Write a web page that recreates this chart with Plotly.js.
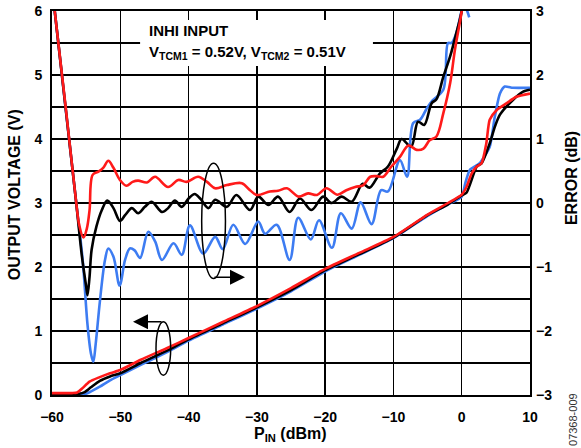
<!DOCTYPE html>
<html>
<head>
<meta charset="utf-8">
<script src="https://cdn.plot.ly/plotly-3.0.1.min.js"></script>
<style>html,body{margin:0;padding:0;background:#fff;}#chart{width:581px;height:448px;}</style>
</head>
<body>
<div id="chart"></div>
<script>
// ---- Output voltage (V) vs PIN (dBm), left axis ----
const pinRedV   = [-60,-57,-56.3,-55.6,-54.5,-53,-51.5,-50,-47,-43.2,-40,-35,-30,-25,-20,-15,-10,-5,-2,0,0.7,1.45,2.2,2.9,3.6,4.1,5.1,6.6,8,10];
const voltRed   = [0.03,0.03,0.04,0.1,0.21,0.28,0.34,0.39,0.55,0.73,0.89,1.14,1.39,1.67,1.97,2.22,2.47,2.82,3.0,3.13,3.25,3.46,3.57,3.62,3.93,4.3,4.45,4.56,4.66,4.71];

const pinBlackV = [-60,-56,-55.3,-54.3,-53,-51.5,-50,-47,-43,-40,-35,-30,-25,-20,-15,-10,-5,-2,0,0.7,2.2,2.9,4.1,4.85,5.6,7.5,9,10];
const voltBlack = [0.02,0.02,0.04,0.12,0.22,0.29,0.34,0.5,0.7,0.87,1.12,1.37,1.64,1.95,2.2,2.46,2.81,2.98,3.12,3.16,3.57,3.62,3.93,4.19,4.38,4.61,4.74,4.77];

const pinBlueV  = [-60,-55,-54.4,-53,-51.5,-50,-47,-43,-40,-35,-30,-25,-20,-15,-10,-5,-2,0,0.5,1.2,2.6,4.1,4.85,5.6,6.3,7.5,10];
const voltBlue  = [0.02,0.02,0.05,0.13,0.23,0.31,0.47,0.68,0.85,1.1,1.35,1.62,1.93,2.19,2.45,2.8,2.98,3.1,3.3,3.52,3.62,3.88,4.35,4.71,4.82,4.8,4.8];

// ---- Error (dB) vs PIN (dBm), right axis ----
const pinRedE   = [-60,-59.6,-58,-56.5,-56,-55.4,-54.9,-54.5,-54.05,-53.2,-52.5,-51.75,-51,-50.05,-49.1,-48.2,-47.4,-46.1,-44.9,-43.0,-41.5,-40.3,-38.6,-37.3,-36.1,-34.4,-32.2,-31,-30,-28.1,-26.9,-25.6,-23.9,-22.5,-21.2,-19.8,-18.2,-16.9,-15.6,-14.4,-13.4,-12.5,-11.5,-10.3,-9.05,-7.8,-6.6,-5.6,-4.7,-3.7,-2.7,-1.7,-1.0,0,0.4];
const errRed    = [3.4,3.0,1.5,0.05,-0.35,-0.54,-0.4,-0.11,0.44,0.49,0.55,0.66,0.55,0.36,0.27,0.33,0.35,0.32,0.41,0.25,0.36,0.33,0.41,0.33,0.23,0.28,0.31,0.2,0.125,0.18,0.19,0.23,0.1,0.15,0.125,0.23,0.13,0.2,0.25,0.28,0.41,0.42,0.41,0.57,0.72,0.9,0.83,0.85,0.98,1.04,1.4,1.87,2.39,3.0,3.4];

const pinBlackE = [-60,-59.6,-56.5,-55.6,-55.0,-54.8,-54.5,-54.2,-53.5,-52.7,-51.9,-51.0,-50.05,-49.3,-48.3,-47.4,-46.4,-45.4,-43.9,-43.0,-42.0,-41.0,-40.0,-39.1,-38.3,-37.1,-36.1,-34.4,-33.0,-31.0,-29.8,-28.3,-26.9,-25.2,-23.7,-22.0,-20.3,-19.05,-17.6,-16.1,-14.5,-13.5,-12.0,-10.8,-9.5,-8.8,-7.4,-6.4,-5.5,-4.4,-3.7,-2.7,-1.7,-0.8,0,0.4];
const errBlack  = [3.4,3.0,0.05,-0.85,-1.3,-1.44,-1.15,-0.73,-0.37,-0.11,0.04,-0.08,-0.28,-0.19,-0.08,-0.16,-0.06,0.02,-0.14,-0.08,0.04,-0.06,0.07,0.14,0.07,-0.08,0.05,-0.06,0.125,-0.11,0.1,-0.03,0.1,-0.14,0.07,-0.11,0.1,0.0,0.1,0.02,0.3,0.24,0.46,0.57,0.85,1.0,0.88,1.27,1.22,1.56,1.62,1.97,2.29,2.65,3.0,3.4];

const pinBlueE  = [-60,-59.6,-56.5,-55.5,-54.8,-54.3,-53.95,-53.6,-52.97,-52.24,-51.76,-51.0,-50.1,-49.3,-48.6,-47.9,-47.1,-45.9,-44.9,-43.9,-42.2,-41.0,-39.8,-37.85,-36.1,-35.0,-33.45,-31.7,-29.8,-28.8,-27.1,-25.2,-23.95,-22.1,-20.9,-19.0,-17.7,-16.1,-14.8,-13.2,-11.8,-10.8,-9.05,-8.0,-7.1,-6.1,-5.1,-4.3,-2.7,-2.0,-1.5,-0.8,0,0.4,0.8,1.1];
const errBlue   = [3.4,3.0,0.05,-0.9,-1.9,-2.35,-2.48,-2.2,-1.52,-0.89,-0.71,-0.84,-1.29,-0.89,-0.71,-0.74,-0.86,-0.45,-0.6,-0.89,-0.63,-0.81,-0.35,-0.79,-0.53,-0.72,-0.34,-0.64,-0.29,-0.48,-0.34,-0.89,-0.23,-0.57,-0.27,-0.7,-0.16,-0.4,0.01,-0.33,0.2,0.18,0.67,0.41,1.25,1.3,1.48,1.6,1.77,2.5,2.5,2.65,3.0,3.08,3.0,2.9];

// ---- Axis ticks ----
const xTicks  = [-60,-50,-40,-30,-20,-10,0,10];
const yTicks  = [0,1,2,3,4,5,6];
const y2Ticks = [-3,-2,-1,0,1,2,3];

const RED = '#ff1a1a', BLACK = '#000000', BLUE = '#3d7cf2';
const LW = 2.6;

function tr(x, y, color, axis, sm) {
  return {x: x, y: y, type: 'scatter', mode: 'lines', yaxis: axis,
          line: {color: color, width: LW, shape: 'spline', smoothing: sm},
          hoverinfo: 'skip'};
}

const data = [
  tr(pinBlueV, voltBlue, BLUE, 'y', 0.6),
  tr(pinBlackV, voltBlack, BLACK, 'y', 0.6),
  tr(pinRedV, voltRed, RED, 'y', 0.6),
  tr(pinBlueE, errBlue, BLUE, 'y2', 0.95),
  tr(pinBlackE, errBlack, BLACK, 'y2', 0.95),
  tr(pinRedE, errRed, RED, 'y2', 0.95)
];

const FONT = 'Liberation Sans, Arial, Helvetica, sans-serif';
const tickFont = {family: FONT, size: 14, color: 'black', weight: 'bold'};

const layout = {
  width: 581, height: 448,
  margin: {l: 52, r: 51, t: 11, b: 53, pad: 0},
  paper_bgcolor: 'white', plot_bgcolor: 'white',
  showlegend: false,
  font: {family: FONT, size: 14, color: 'black'},
  xaxis: {
    range: [-60, 10], tickmode: 'array', tickvals: xTicks,
    showgrid: true, gridcolor: 'black', gridwidth: 1.5,
    zeroline: false, showline: true, mirror: true, linecolor: 'black', linewidth: 2,
    ticks: '', tickfont: tickFont, ticklabelstandoff: 8, fixedrange: true
  },
  yaxis: {
    range: [0, 6], tickmode: 'array', tickvals: yTicks,
    showgrid: true, gridcolor: 'black', gridwidth: 1.5,
    minor: {dtick: 0.5, tick0: 0, showgrid: true, gridcolor: 'black', gridwidth: 1.5, ticks: ''},
    zeroline: false, showline: true, mirror: true, linecolor: 'black', linewidth: 2,
    ticks: '', tickfont: tickFont, ticklabelstandoff: 5, fixedrange: true
  },
  yaxis2: {
    range: [-3, 3], tickmode: 'array', tickvals: y2Ticks,
    overlaying: 'y', side: 'right', showgrid: false, zeroline: false, showline: false,
    ticks: '', tickfont: tickFont, ticklabelstandoff: 5, fixedrange: true
  },
  shapes: [
    {type: 'rect', xref: 'x', yref: 'y', x0: -47.1, x1: -13.0, y0: 5.14, y1: 5.86,
     fillcolor: 'white', line: {width: 0}, layer: 'above'},
    {type: 'circle', xref: 'x', yref: 'y', x0: -38.08, x1: -34.6, y0: 1.82, y1: 3.62,
     line: {color: 'black', width: 1.5}, layer: 'above'},
    {type: 'circle', xref: 'x', yref: 'y', x0: -44.77, x1: -42.62, y0: 0.31, y1: 1.145,
     line: {color: 'black', width: 1.5}, layer: 'above'}
  ],
  annotations: [
    {text: 'INHI INPUT', xref: 'paper', yref: 'paper', x: 0.1987, y: 0.948,
     xanchor: 'left', yanchor: 'middle', showarrow: false,
     font: {family: FONT, size: 15, color: 'black', weight: 'bold'}},
    {text: 'V<sub>TCM1</sub> = 0.52V, V<sub>TCM2</sub> = 0.51V', xref: 'paper', yref: 'paper', x: 0.1987, y: 0.893,
     xanchor: 'left', yanchor: 'middle', showarrow: false,
     font: {family: FONT, size: 15, color: 'black', weight: 'bold'}},
    {text: 'OUTPUT VOLTAGE (V)', xref: 'paper', yref: 'paper', x: -0.0795, y: 0.523,
     xanchor: 'center', yanchor: 'middle', textangle: -90, showarrow: false,
     font: {family: FONT, size: 16, color: 'black', weight: 'bold'}},
    {text: 'ERROR (dB)', xref: 'paper', yref: 'paper', x: 1.0858, y: 0.565,
     xanchor: 'center', yanchor: 'middle', textangle: -90, showarrow: false,
     font: {family: FONT, size: 16, color: 'black', weight: 'bold'}},
    {text: 'P<sub>IN</sub> (dBm)', xref: 'paper', yref: 'paper', x: 0.498, y: -0.104,
     xanchor: 'center', yanchor: 'middle', showarrow: false,
     font: {family: FONT, size: 16, color: 'black', weight: 'bold'}},
    {text: '07368-009', xref: 'paper', yref: 'paper', x: 1.09, y: -0.065,
     xanchor: 'center', yanchor: 'middle', textangle: -90, showarrow: false,
     font: {family: FONT, size: 11, color: '#333333'}},
    {text: '', xref: 'x', yref: 'y', axref: 'x', ayref: 'y',
     x: -31.74, y: 1.84, ax: -36.43, ay: 1.84,
     showarrow: true, arrowhead: 2, arrowsize: 2, arrowwidth: 1.5, arrowcolor: 'black'},
    {text: '', xref: 'x', yref: 'y', axref: 'x', ayref: 'y',
     x: -48.14, y: 1.145, ax: -43.75, ay: 1.145,
     showarrow: true, arrowhead: 2, arrowsize: 2, arrowwidth: 1.5, arrowcolor: 'black'}
  ]
};

Plotly.newPlot('chart', data, layout, {staticPlot: true, displayModeBar: false});
</script>
</body>
</html>
